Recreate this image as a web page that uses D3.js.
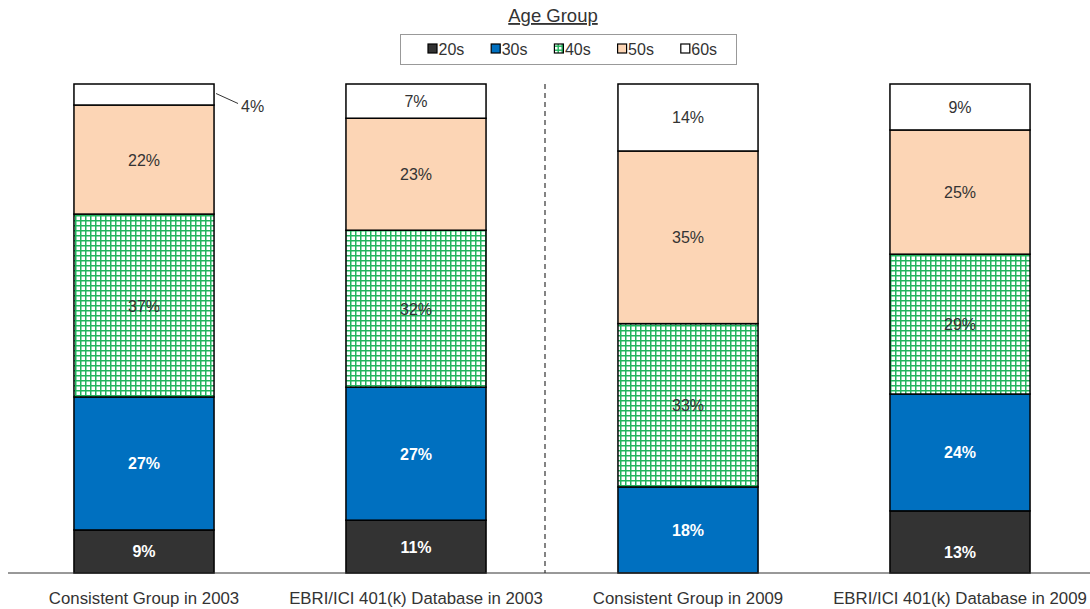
<!DOCTYPE html>
<html><head><meta charset="utf-8">
<script src="https://cdn.jsdelivr.net/npm/d3@7"></script>
<style>body{margin:0;background:#fff}svg{display:block;font-family:"Liberation Sans",Arial,sans-serif}</style>
</head><body><svg id="c" width="1090" height="609"></svg>
<script>
const categories = ["Consistent Group in 2003","EBRI/ICI 401(k) Database in 2003","Consistent Group in 2009","EBRI/ICI 401(k) Database in 2009"];
const seriesNames = ["20s","30s","40s","50s","60s"];
const s20 = [8.8, 10.8, 0, 12.7];
const s30 = [27.2, 27.2, 17.6, 23.9];
const s40 = [37.4, 32.1, 33.4, 28.6];
const s50 = [22.3, 22.9, 35.3, 25.4];
const s60 = [4.3, 7.0, 13.7, 9.4];
const yTicks = [0, 100];

const svg = d3.select("#c");
const defs = svg.append("defs");
const pat = defs.append("pattern").attr("id","grid").attr("patternUnits","userSpaceOnUse").attr("width",5).attr("height",5);
pat.append("rect").attr("width",5).attr("height",5).attr("fill","#fff");
pat.append("rect").attr("x",0).attr("y",0).attr("width",1.5).attr("height",5).attr("fill","#22b45e");
pat.append("rect").attr("x",0).attr("y",0).attr("width",5).attr("height",1.5).attr("fill","#22b45e");
const patS = defs.append("pattern").attr("id","gridS").attr("patternUnits","userSpaceOnUse").attr("width",4).attr("height",4);
patS.append("rect").attr("width",4).attr("height",4).attr("fill","#fff");
patS.append("rect").attr("x",1.5).attr("width",1.4).attr("height",4).attr("fill","#1fb35a");
patS.append("rect").attr("y",1.5).attr("width",4).attr("height",1.4).attr("fill","#1fb35a");

const fills = ["#333333","#0070c0","url(#grid)","#fcd5b5","#ffffff"];
const legendFills = ["#333333","#0070c0","url(#gridS)","#fcd5b5","#ffffff"];
const labelColors = ["#fff","#fff","#333","#333","#333"];
const labelWeights = ["bold","bold","normal","normal","normal"];

const x = d3.scaleBand().domain(categories).range([8, 1096]).paddingInner(0.485).paddingOuter(0.2425);
const y = d3.scaleLinear().domain(d3.extent(yTicks)).range([573, 84]);

const rows = categories.map((c,i)=>({cat:c, "20s":s20[i], "30s":s30[i], "40s":s40[i], "50s":s50[i], "60s":s60[i]}));
const stacked = d3.stack().keys(seriesNames)(rows);

stacked.forEach((layer, si) => {
  const g = svg.append("g");
  layer.forEach((d, i) => {
    const h = y(d[0]) - y(d[1]);
    if (h <= 0) return;
    g.append("rect").attr("x", x(categories[i])).attr("y", y(d[1]))
      .attr("width", x.bandwidth()).attr("height", h)
      .attr("fill", fills[si]).attr("stroke","#000").attr("stroke-width",1.5);
  });
});
// labels
stacked.forEach((layer, si) => {
  layer.forEach((d, i) => {
    const v = d[1]-d[0];
    if (v <= 0) return;
    const lbl = Math.round(v) + "%";
    if (v < 5) {
      const x1 = x(categories[i]) + x.bandwidth();
      const ym = (y(d[0])+y(d[1]))/2;
      svg.append("line").attr("x1", x1+2).attr("y1", ym-1).attr("x2", x1+24).attr("y2", ym+9)
        .attr("stroke","#333").attr("stroke-width",1);
      svg.append("text").attr("x", x1+27).attr("y", ym+17).attr("fill","#333")
        .attr("font-size",16).text(lbl);
    } else {
      const nudge = (si === 0 && i === 3) ? 10 : 0;
      svg.append("text").attr("x", x(categories[i]) + x.bandwidth()/2)
        .attr("y", (y(d[0])+y(d[1]))/2 + 6 + nudge).attr("text-anchor","middle")
        .attr("fill", labelColors[si]).attr("font-weight", labelWeights[si])
        .attr("font-size",16).text(lbl);
    }
  });
});

// x axis
svg.append("g").attr("transform","translate(0,573)")
  .call(d3.axisBottom(x).tickSize(0).tickPadding(19))
  .call(g => { g.select(".domain").attr("stroke","#333").attr("d","M8,0H1090");
    g.selectAll("text").attr("font-size",16.8).attr("fill","#333").attr("font-family","Liberation Sans, Arial, sans-serif"); });

// divider
svg.append("line").attr("x1",545).attr("x2",545).attr("y1",84).attr("y2",573)
  .attr("stroke","#333").attr("stroke-width",1.2).attr("stroke-dasharray","5,4");

// title
svg.append("text").attr("x",553).attr("y",22).attr("text-anchor","middle").attr("font-size",18.5)
  .attr("fill","#333").attr("text-decoration","underline").text("Age Group");

// legend
svg.append("rect").attr("x",400.5).attr("y",34.5).attr("width",336).attr("height",30)
  .attr("fill","#fff").attr("stroke","#999").attr("stroke-width",1);
seriesNames.forEach((n,i) => {
  const lx = 428 + i*63.2;
  svg.append("rect").attr("x",lx).attr("y",44).attr("width",9).attr("height",9)
    .attr("fill",legendFills[i]).attr("stroke","#000").attr("stroke-width",1.2);
  svg.append("text").attr("x",lx+10.5).attr("y",55).attr("font-size",16).attr("fill","#333").text(n);
});
</script></body></html>
